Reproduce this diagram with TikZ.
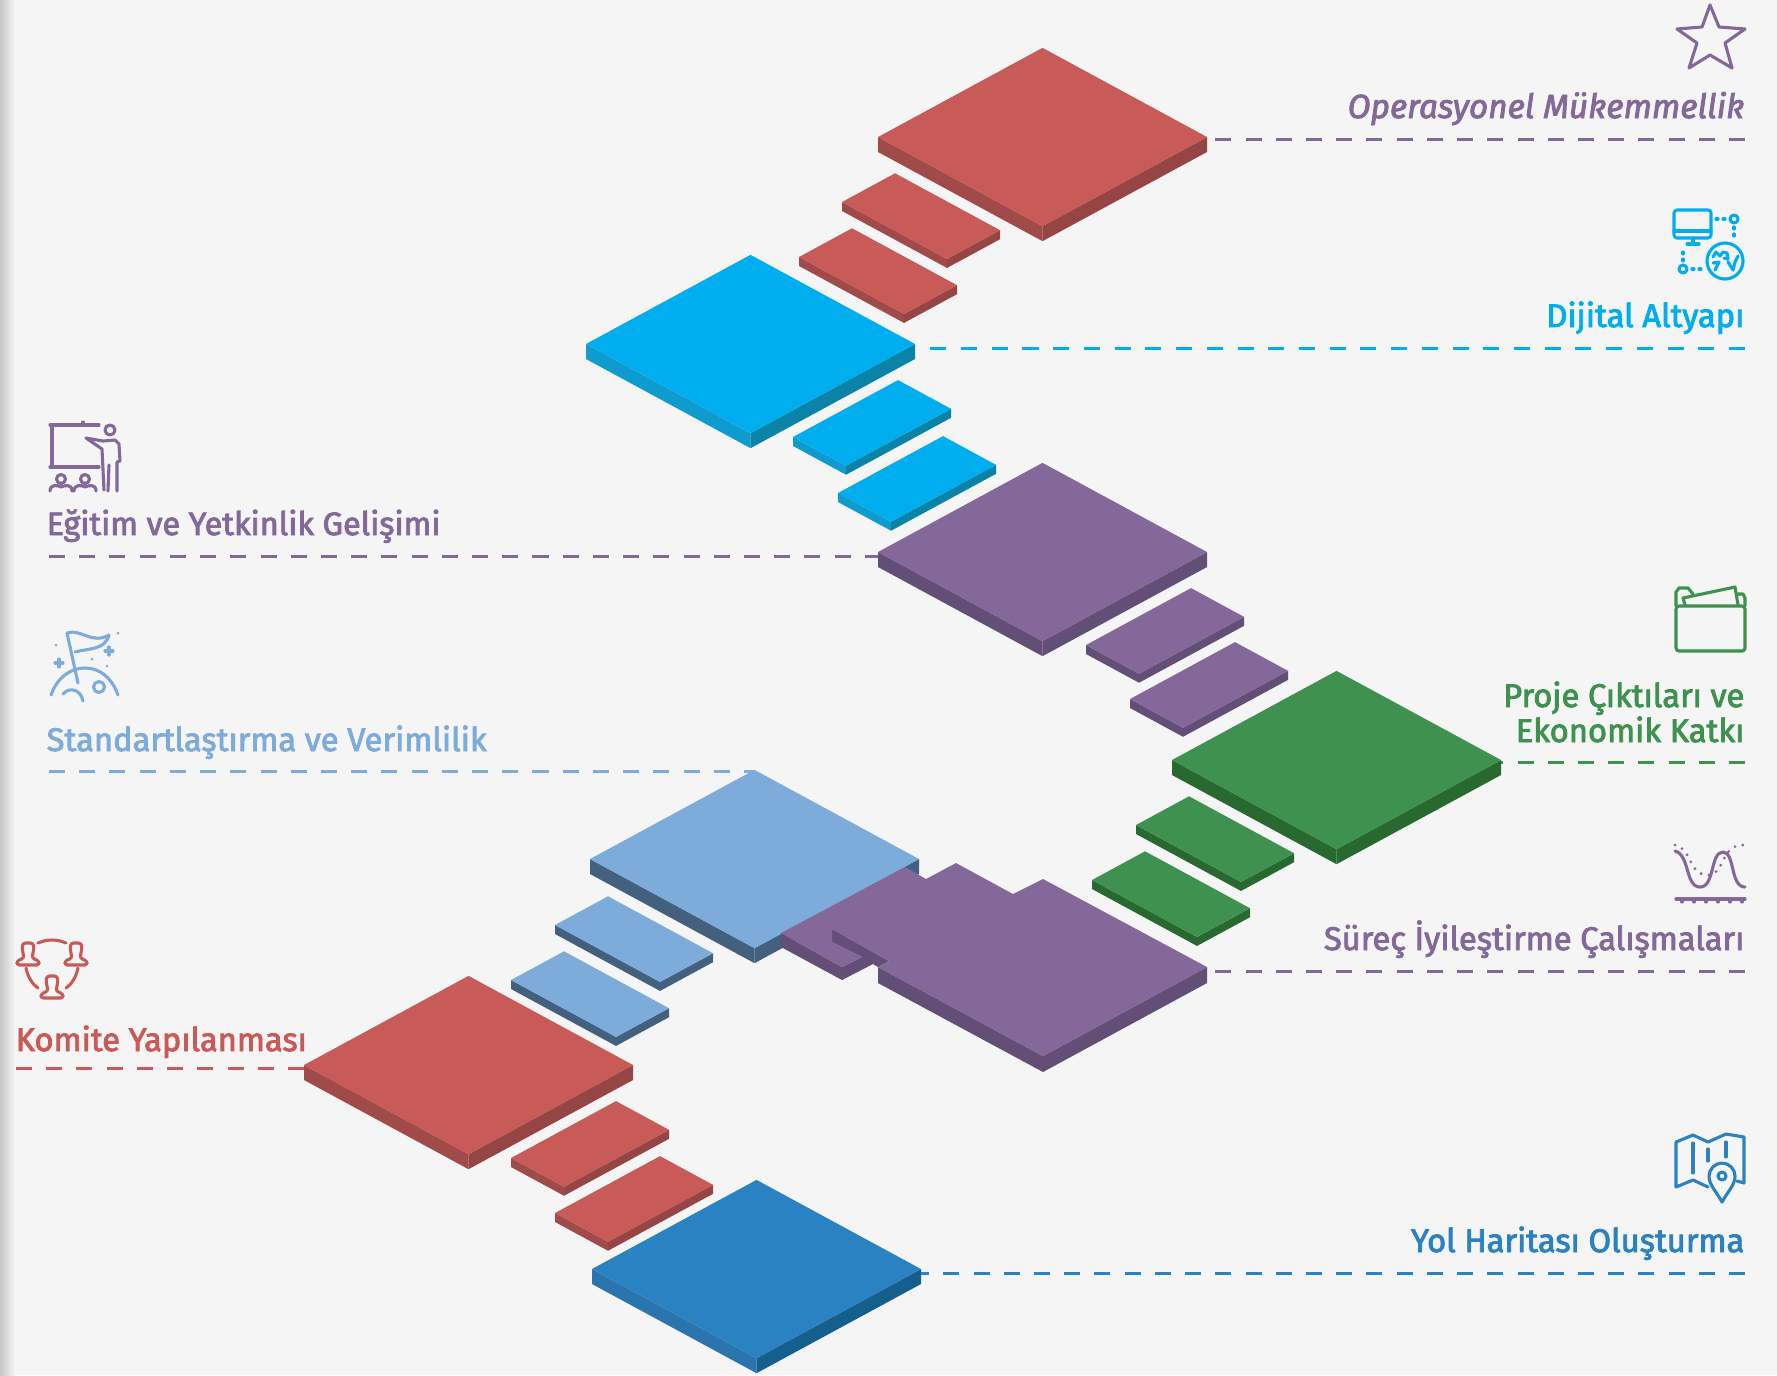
\documentclass[tikz,border=0pt]{standalone}
\usepackage{fontspec}
\setmainfont{Fira Sans}[RawFeature={embolden=2.6}]
\definecolor{bggrey}{HTML}{F5F5F5}
\definecolor{slabred}{HTML}{C85A57}
\definecolor{slabredL}{HTML}{A04A4A}
\definecolor{slabredR}{HTML}{964545}
\definecolor{slabcyan}{HTML}{00AEEF}
\definecolor{slabcyanL}{HTML}{0E9CCF}
\definecolor{slabcyanR}{HTML}{0B83A6}
\definecolor{slabpurple}{HTML}{84689A}
\definecolor{slabpurpleL}{HTML}{634F75}
\definecolor{slabpurpleR}{HTML}{634F75}
\definecolor{slabgreen}{HTML}{3F914F}
\definecolor{slabgreenL}{HTML}{27692F}
\definecolor{slabgreenR}{HTML}{27692F}
\definecolor{slabsky}{HTML}{7DACDB}
\definecolor{slabskyL}{HTML}{43617F}
\definecolor{slabskyR}{HTML}{43617F}
\definecolor{slabblue}{HTML}{2B82C2}
\definecolor{slabblueL}{HTML}{2B75AE}
\definecolor{slabblueR}{HTML}{155F8D}
\tikzset{
  dashline/.style={line width=0.03cm,dash pattern=on 0.16cm off 0.142cm},
  iconline/.style={line width=0.031cm,line cap=round,line join=round},
  labeltext/.style={inner sep=0pt,font=\fontsize{9.3}{9.9}\selectfont},
}
\begin{document}
\begin{tikzpicture}[x=0.01cm,y=-0.01cm]
\useasboundingbox (0,0) rectangle (1777,1375);
\fill[bggrey] (0,0) rectangle (1777,1375);
\shade[left color=black!22,right color=bggrey] (0,0) rectangle (15,1375);
% slabs
\foreach \n/\x/\y/\a/\b/\d/\c in {
  op/878/137/164.5/164.5/15/red,
  ops/842/202/105/53/9/red,
  opt/799/257/105/53/9/red,
  dij/586/344/164.5/164.5/15/cyan,
  dijs/793/437/53/105/9/cyan,
  dijt/838/493/53/105/9/cyan,
  egt/878/552/164.5/164.5/15/purple,
  egts/1086/645/53/105/9/purple,
  egtt/1130/699/53/105/9/purple,
  pro/1172/760/164.5/164.5/15/green,
  pros/1136/825/105/53/9/green,
  prot/1092/880/105/53/9/green,
  std/590/859/164.5/164.5/15/sky,
  stds/555/925/105/53/9/sky,
  stdt/511/980/105/53/9/sky,
  kom/304/1065/164.5/164.5/15/red,
  koms/511/1158/53/105/9/red,
  komt/555/1213/53/105/9/red,
  yol/592/1269/164.5/164.5/15/blue}{
  \coordinate (\n-l) at (\x,\y);
  \coordinate (\n-b) at (\x+\a,\y+0.542*\a);
  \coordinate (\n-r) at (\x+\a+\b,\y+0.542*\a-0.542*\b);
  \coordinate (\n-t) at (\x+\b,\y-0.542*\b);
  \fill[slab\c L] (\n-l) -- (\n-b) -- ++(0,\d) -- (\x,\y+\d) -- cycle;
  \fill[slab\c R] (\n-b) -- (\n-r) -- ++(0,\d) -- (\x+\a,\y+0.542*\a+\d) -- cycle;
  \fill[slab\c] (\n-l) -- (\n-b) -- (\n-r) -- (\n-t) -- cycle;
};
% purple slab with the tab
\coordinate (sur-r) at (1207,967);
\fill[slabpurpleL] (781,933) -- (842,967) -- (842,980) -- (781,947) -- cycle;
\fill[slabpurpleL] (878,967) -- (1043,1056) -- (1207,967) -- (1207,983) -- (1043,1072) -- (878,983) -- cycle;
\fill[slabpurpleL] (832,929) -- (889,961) -- (878,967) -- (873,964) -- (842,980) -- (842,967) -- (862,957) -- (832,942) -- cycle;
\fill[slabpurple] (905,867) -- (926,879) -- (956,863) -- (1013,894) -- (1043,879) -- (sur-r) -- (1043,1056) -- (878,967) -- (889,961) -- (832,929) -- (832,942) -- (862,957) -- (842,967) -- (781,933) -- cycle;
% labels
\node[labeltext,font=\fontsize{9.5}{9.9}\selectfont,anchor=base east,text=slabpurple] (oplabel) at (1745,118) {\itshape Operasyonel Mükemmellik};
\node[labeltext,anchor=base east,text=slabcyan] (dijlabel) at (1745,327) {Dijital Altyapı};
\node[labeltext,font=\fontsize{9.22}{9.9}\selectfont,anchor=base west,text=slabpurple] (egtlabel) at (46,535) {Eğitim ve Yetkinlik Gelişimi};
\node[labeltext,anchor=base west,text=slabsky] (stdlabel) at (46,751) {Standartlaştırma ve Verimlilik};
\node[labeltext,anchor=base east,text=slabgreen] (prolabel) at (1745,707) {Proje Çıktıları ve};
\node[labeltext,anchor=base east,text=slabgreen] (prolabelb) at (1745,742) {Ekonomik Katkı};
\node[labeltext,anchor=base east,text=slabpurple] (surlabel) at (1745,950) {Süreç İyileştirme Çalışmaları};
\node[labeltext,anchor=base west,text=slabred] (komlabel) at (15,1051) {Komite Yapılanması};
\node[labeltext,anchor=base east,text=slabblue] (yollabel) at (1745,1252) {Yol Haritası Oluşturma};
% dashed lines
\coordinate (opend) at (1745,139);
\coordinate (dijend) at (1745,348);
\coordinate (egtend) at (49,556);
\coordinate (stdend) at (49,771);
\coordinate (proend) at (1745,762);
\coordinate (surend) at (1745,971);
\coordinate (komend) at (16,1068);
\coordinate (yolend) at (1745,1273);
\draw[dashline,slabpurple,shorten >=0.08cm] (opend) -- (opend -| op-r);
\draw[dashline,slabcyan,dash pattern=on 0.16cm off 0.147cm,shorten >=0.08cm] (dijend) -- (dijend -| dij-r);
\draw[dashline,slabpurple] (egtend) -- (egtend -| egt-l);
\draw[dashline,slabsky] (stdend) -- (stdend -| std-t);
\draw[dashline,slabgreen] (proend) -- (proend -| pro-r);
\draw[dashline,slabpurple,shorten >=0.08cm] (surend) -- (surend -| sur-r);
\draw[dashline,slabred] (komend) -- (komend -| kom-l);
\draw[dashline,slabblue] (yolend) -- (yolend -| yol-r);
% star
\draw[iconline,slabpurple] (1710,5) -- (1719,27) -- (1745,29) -- (1725,43) -- (1732,68) -- (1710,55) -- (1689,68) -- (1697,43) -- (1677,29) -- (1702,27) -- cycle;
% monitor and globe
\draw[iconline,slabcyan,rounded corners=0.03cm] (1674,210) rectangle (1711,238);
\draw[iconline,slabcyan] (1674,231) -- (1711,231) (1693,238) -- (1693,243) (1687,244) -- (1699,244);
\draw[iconline,slabcyan] (1734,219) circle[radius=4] (1683,269) circle[radius=4] (1725,261) circle[radius=18];
\draw[iconline,slabcyan,dash pattern=on 0.02cm off 0.05cm] (1716,219) -- (1727,219) (1734,227) -- (1734,238) (1683,252) -- (1683,262) (1692,269) -- (1702,269);
\draw[iconline,slabcyan] (1713,257) -- (1716,252) -- (1720,256) -- (1723,252) -- (1727,253) -- (1728,259) -- (1724,258) (1728,262) -- (1733,270) -- (1735,262) -- (1738,256) (1713,263) -- (1719,262) -- (1715,270);
% teacher and board
\draw[iconline,slabpurple] (50,425) -- (99,425) (83,422) -- (83,425) (52,425) -- (52,467) (50,467) -- (99,467);
\draw[iconline,slabpurple] (110,430) circle[radius=5] (61,479) circle[radius=4.5] (85,479) circle[radius=4.5];
\draw[iconline,slabpurple] (117,491) -- (117,462) -- (120,461) -- (119,444) -- (115,440) -- (103,441) -- (86,438) -- (102,449) -- (104,490) (109,465) -- (108,491);
\draw[iconline,slabpurple] (50,491) .. controls (50,484) and (58,485) .. (61,487) .. controls (65,485) and (72,484) .. (72,491) (74,491) .. controls (74,484) and (82,485) .. (85,487) .. controls (89,485) and (96,484) .. (96,491);
% flag on the moon
\draw[iconline,slabsky] (67,633) -- (78,683) (67,633) .. controls (80,628) and (92,645) .. (109,635) .. controls (105,650) and (90,648) .. (75,652);
\draw[iconline,slabsky] (51,695) .. controls (57,678) and (70,668) .. (85,668) .. controls (100,668) and (112,678) .. (118,695);
\draw[iconline,slabsky] (99,687) circle[radius=5.5] (63,694) .. controls (70,686) and (81,690) .. (83,701);
\draw[iconline,slabsky] (55,663) -- (63,663) (59,659) -- (59,667) (105,651) -- (113,651) (109,647) -- (109,655);
\foreach \x/\y in {56/645,118/633,92/659,107/666}{
  \fill[slabsky] (\x,\y) circle[radius=1.5];
};
% folder
\draw[iconline,slabgreen,rounded corners=0.03cm] (1676,606) rectangle (1745,651);
\draw[iconline,slabgreen] (1676,606) -- (1676,592) -- (1679,588) -- (1688,588) -- (1693,594) (1685,605) -- (1683,598) -- (1735,587) -- (1738,605) (1738,594) -- (1743,594) -- (1745,598) -- (1745,606);
% curves
\draw[iconline,slabpurple] (1675,851) .. controls (1690,855) and (1685,887) .. (1700,887) .. controls (1715,887) and (1710,852) .. (1723,852) .. controls (1735,852) and (1730,887) .. (1745,887);
\draw[iconline,slabpurple,dash pattern=on 0pt off 0.08cm] (1675,845) .. controls (1692,848) and (1688,875) .. (1708,875) .. controls (1725,875) and (1720,845) .. (1743,845);
\draw[iconline,slabpurple] (1676,899) -- (1745,899);
\foreach \x in {1682,1694,1706,1718,1730,1742}{
  \draw[iconline,slabpurple] (\x,899) -- (\x,902);
};
% three people
\foreach \x/\y in {28/965,76/965,52/998}{
  \draw[iconline,slabred,rounded corners=0.025cm] (\x-11,\y) -- (\x+11,\y) -- (\x+11,\y-4) -- (\x+4,\y-7) -- (\x+6,\y-17) -- (\x+5,\y-22) -- (\x-5,\y-22) -- (\x-6,\y-17) -- (\x-4,\y-7) -- (\x-11,\y-4) -- cycle;
};
\draw[iconline,slabred] (38,943) .. controls (47,939) and (57,939) .. (66,943) (26,968) .. controls (28,977) and (32,984) .. (38,988) (78,968) .. controls (76,977) and (72,984) .. (66,988);
% map and pin
\draw[iconline,slabblue] (1737,1181) -- (1744,1183) -- (1744,1137) -- (1726,1134) -- (1708,1142) -- (1693,1135) -- (1676,1142) -- (1676,1187) -- (1693,1180) -- (1708,1187);
\draw[iconline,slabblue] (1693,1143) -- (1693,1173) (1708,1149) -- (1708,1161) (1726,1142) -- (1726,1157);
\draw[iconline,slabblue] (1722,1202) .. controls (1716,1191) and (1709,1185) .. (1709,1176) .. controls (1709,1169) and (1715,1163) .. (1722,1163) .. controls (1729,1163) and (1735,1169) .. (1735,1176) .. controls (1735,1185) and (1728,1191) .. cycle;
\draw[iconline,slabblue] (1722,1176) circle[radius=4];
\end{tikzpicture}
\end{document}
